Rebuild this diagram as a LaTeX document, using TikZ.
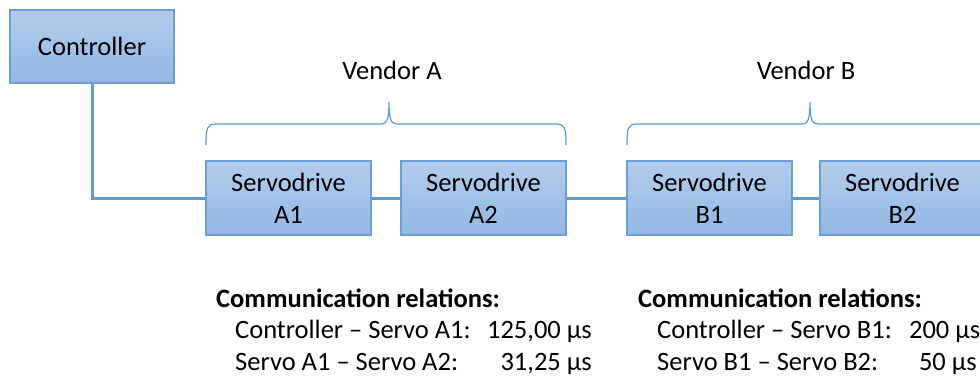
\documentclass[tikz,border=0pt]{standalone}
\usepackage{fontspec}
\setmainfont{Carlito}
\definecolor{boxtop}{RGB}{178,205,236}
\definecolor{boxbot}{RGB}{146,184,228}
\definecolor{boxline}{RGB}{108,159,218}
\definecolor{wire}{RGB}{91,155,213}
\begin{document}
\begin{tikzpicture}[x=1pt,y=-1pt,
  box/.style={draw=boxline,line width=1.5pt,top color=boxtop,bottom color=boxbot,
    minimum width=165pt,minimum height=74pt,align=center,inner sep=0pt,
    font=\fontsize{26.5}{32}\selectfont},
  txt/.style={inner sep=0pt,font=\fontsize{26.5}{30}\selectfont},
  body/.style={inner sep=0pt,font=\fontsize{26.5}{30}\selectfont},
  conn/.style={draw=wire,line width=3pt},
  bracepath/.style={draw=wire,line width=1.2pt}]
\useasboundingbox (0,0) rectangle (980,377);
\begin{scope}
\clip (0,0) rectangle (980,377);
\node[box,minimum width=164pt,minimum height=73pt] (ctrl) at (92,46.5) {Controller};
\node[box] (a1) at (288.5,198) {Servodrive\\A1};
\node[box] (a2) at (483.5,198) {Servodrive\\A2};
\node[box] (b1) at (709.5,198) {Servodrive\\B1};
\node[box] (b2) at (902.5,198) {Servodrive\\B2};
\draw[conn] (ctrl.south) |- (a1.west);
\draw[conn] (a1.east) -- (a2.west);
\draw[conn] (a2.east) -- (b1.west);
\draw[conn] (b1.east) -- (b2.west);
% braces
\draw[bracepath] (206,145) .. controls (206,128) and (207,124) .. (216,124) -- (381,124)
  .. controls (387,124) and (389,119) .. (389,102)
  .. controls (389,119) and (391,124) .. (397,124) -- (556,124)
  .. controls (565,124) and (566,128) .. (566,145);
\draw[bracepath] (627,145) .. controls (627,128) and (628,124) .. (637,124) -- (802,124)
  .. controls (808,124) and (810,119) .. (810,102)
  .. controls (810,119) and (812,124) .. (818,124) -- (983,124)
  .. controls (992,124) and (993,128) .. (993,145);
\node[body,anchor=base east] (vb1) at (980.5,338.5) {200 µs};
\end{scope}
\node[txt] (va) at (392,70) {Vendor A};
\node[txt] (vb) at (806,70) {Vendor B};
\node[txt,anchor=base west,font=\fontsize{26.5}{30}\selectfont\bfseries] (ha) at (216,307) {Communication relations:};
\node[body,anchor=base west] (la1) at (235,338.5) {Controller – Servo A1:};
\node[body,anchor=base east] (va1) at (592,338.5) {125,00 µs};
\node[body,anchor=base west] (la2) at (235,370) {Servo A1 – Servo A2:};
\node[body,anchor=base east] (va2) at (592,370) {31,25 µs};
\node[txt,anchor=base west,font=\fontsize{26.5}{30}\selectfont\bfseries] (hb) at (638,307) {Communication relations:};
\node[body,anchor=base west] (lb1) at (657,338.5) {Controller – Servo B1:};
\node[body,anchor=base west] (lb2) at (657,370) {Servo B1 – Servo B2:};
\node[body,anchor=base east] (vb2) at (977,370) {50 µs};
\end{tikzpicture}
\end{document}
